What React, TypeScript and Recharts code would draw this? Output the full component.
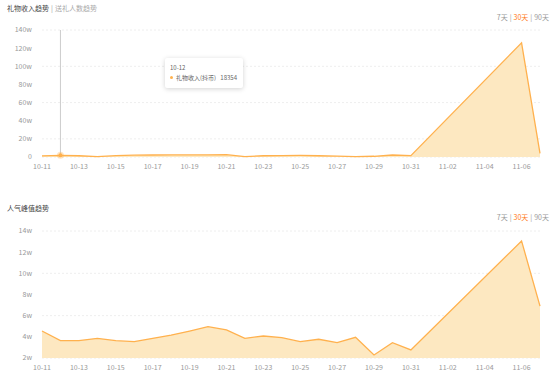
import { AreaChart, Area, XAxis, YAxis, CartesianGrid, Tooltip } from "recharts";

const dates = [
  "10-11", "10-12", "10-13", "10-14", "10-15", "10-16", "10-17",
  "10-18", "10-19", "10-20", "10-21", "10-22", "10-23", "10-24",
  "10-25", "10-26", "10-27", "10-28", "10-29", "10-30", "10-31",
  "11-01", "11-02", "11-03", "11-04", "11-05", "11-06", "11-07",
];

// 礼物收入 (抖币), no data for 11-01 ~ 11-05
const giftIncome = [
  13500, 18354, 14000, 4000, 15000, 20000, 22000,
  23000, 23000, 24000, 26000, 4000, 14000, 16000,
  17000, 14000, 9000, 5000, 8000, 22000, 15000,
  null, null, null, null, null, 1258000, 40000,
];

// 人气峰值
const peakViewers = [
  45500, 36400, 36400, 38600, 36400, 35400, 38600,
  41700, 45500, 49600, 46500, 38600, 40800, 39200,
  35400, 37700, 34500, 39600, 22800, 34500, 27600,
  null, null, null, null, null, 130600, 69000,
];

const incomeTicks = [0, 200000, 400000, 600000, 800000, 1000000, 1200000, 1400000];
const viewerTicks = [20000, 40000, 60000, 80000, 100000, 120000, 140000];
const rangeOptions = ["7天", "30天", "90天"];

const incomeData = dates.map((d, i) => ({ date: d, value: giftIncome[i] }));
const viewerData = dates.map((d, i) => ({ date: d, value: peakViewers[i] }));

const FONT = '"Noto Sans CJK SC", "Noto Sans", sans-serif';
const STROKE = "#ffb14e";
const FILL = "#fde8c1";
const tick = { fill: "#999", fontSize: 7, fontFamily: FONT };

const fmtW = (v: number) => (v === 0 ? "0" : `${v / 10000}w`);

const RangeSwitch = ({ top }: { top: number }) => (
  <div
    style={{
      position: "absolute",
      top,
      right: 4,
      fontSize: 7,
      color: "#999",
      fontFamily: FONT,
      lineHeight: "10px",
    }}
  >
    {rangeOptions.map((r, i) => (
      <span key={r}>
        {i > 0 && <span style={{ margin: "0 2px" }}>|</span>}
        <span style={{ color: r === "30天" ? "#ff7a1a" : "#999" }}>{r}</span>
      </span>
    ))}
  </div>
);

const IncomeTooltip = ({ payload }: any) => {
  if (!payload || !payload.length) return null;
  const p = payload[0];
  return (
    <div
      style={{
        background: "#fff",
        boxShadow: "0 1px 5px rgba(0,0,0,0.18)",
        borderRadius: 2,
        padding: "5px 6px 6px 5px",
        width: 67,
        fontSize: 6,
        color: "#666",
        fontFamily: FONT,
        lineHeight: "9px",
      }}
    >
      <div>{p.payload.date}</div>
      <div style={{ display: "flex", justifyContent: "space-between", alignItems: "center", marginTop: 1 }}>
        <span style={{ display: "flex", alignItems: "center" }}>
          <span
            style={{
              display: "inline-block",
              width: 3,
              height: 3,
              borderRadius: "50%",
              background: STROKE,
              marginRight: 3,
            }}
          />
          礼物收入(抖币)
        </span>
        <span>{p.value}</span>
      </div>
    </div>
  );
};

const App = () => {
  return (
    <div
      style={{
        position: "absolute",
        left: 0,
        top: 0,
        width: 553,
        height: 371,
        background: "#fff",
        fontFamily: FONT,
        overflow: "hidden",
      }}
    >
      <div style={{ position: "absolute", left: 7, top: 3, fontSize: 7, lineHeight: "10px" }}>
        <span style={{ color: "#444" }}>礼物收入趋势</span>
        <span style={{ color: "#999", margin: "0 2px" }}>|</span>
        <span style={{ color: "#aaa" }}>送礼人数趋势</span>
      </div>
      <RangeSwitch top={12} />

      <div style={{ position: "absolute", left: 0, top: 0 }}>
        <AreaChart
          width={553}
          height={185}
          data={incomeData}
          margin={{ top: 30, right: 13, left: 8, bottom: 8 }}
        >
          <CartesianGrid vertical={false} stroke="#eee" strokeDasharray="2 2" />
          <XAxis
            dataKey="date"
            axisLine={false}
            tickLine={false}
            interval={1}
            tick={tick}
            height={20}
            tickMargin={1}
          />
          <YAxis
            domain={[0, 1400000]}
            ticks={incomeTicks}
            tickFormatter={fmtW}
            axisLine={false}
            tickLine={false}
            tick={tick}
            width={34}
            tickMargin={4}
          />
          <Tooltip
            active
            defaultIndex={1}
            position={{ x: 165, y: 58 }}
            cursor={{ stroke: "#ccc", strokeWidth: 1 }}
            content={<IncomeTooltip />}
            isAnimationActive={false}
          />
          <Area
            type="linear"
            dataKey="value"
            stroke={STROKE}
            strokeWidth={1.3}
            fill={FILL}
            fillOpacity={1}
            connectNulls
            dot={false}
            activeDot={{ r: 2, fill: STROKE, stroke: "rgba(255,177,78,0.35)", strokeWidth: 3 }}
            isAnimationActive={false}
          />
        </AreaChart>
      </div>

      <div style={{ position: "absolute", left: 7, top: 203, fontSize: 7, lineHeight: "10px", color: "#444" }}>
        人气峰值趋势
      </div>
      <RangeSwitch top={212} />

      <div style={{ position: "absolute", left: 0, top: 200 }}>
        <AreaChart
          width={553}
          height={185}
          data={viewerData}
          margin={{ top: 31, right: 13, left: 8, bottom: 7 }}
        >
          <CartesianGrid vertical={false} stroke="#eee" strokeDasharray="2 2" />
          <XAxis
            dataKey="date"
            axisLine={false}
            tickLine={false}
            interval={1}
            tick={tick}
            height={20}
            tickMargin={1}
          />
          <YAxis
            domain={[20000, 140000]}
            ticks={viewerTicks}
            tickFormatter={fmtW}
            axisLine={false}
            tickLine={false}
            tick={tick}
            width={34}
            tickMargin={4}
          />
          <Area
            type="linear"
            dataKey="value"
            stroke={STROKE}
            strokeWidth={1.3}
            fill={FILL}
            fillOpacity={1}
            connectNulls
            dot={false}
            activeDot={false}
            isAnimationActive={false}
          />
        </AreaChart>
      </div>
    </div>
  );
};

export default App;
